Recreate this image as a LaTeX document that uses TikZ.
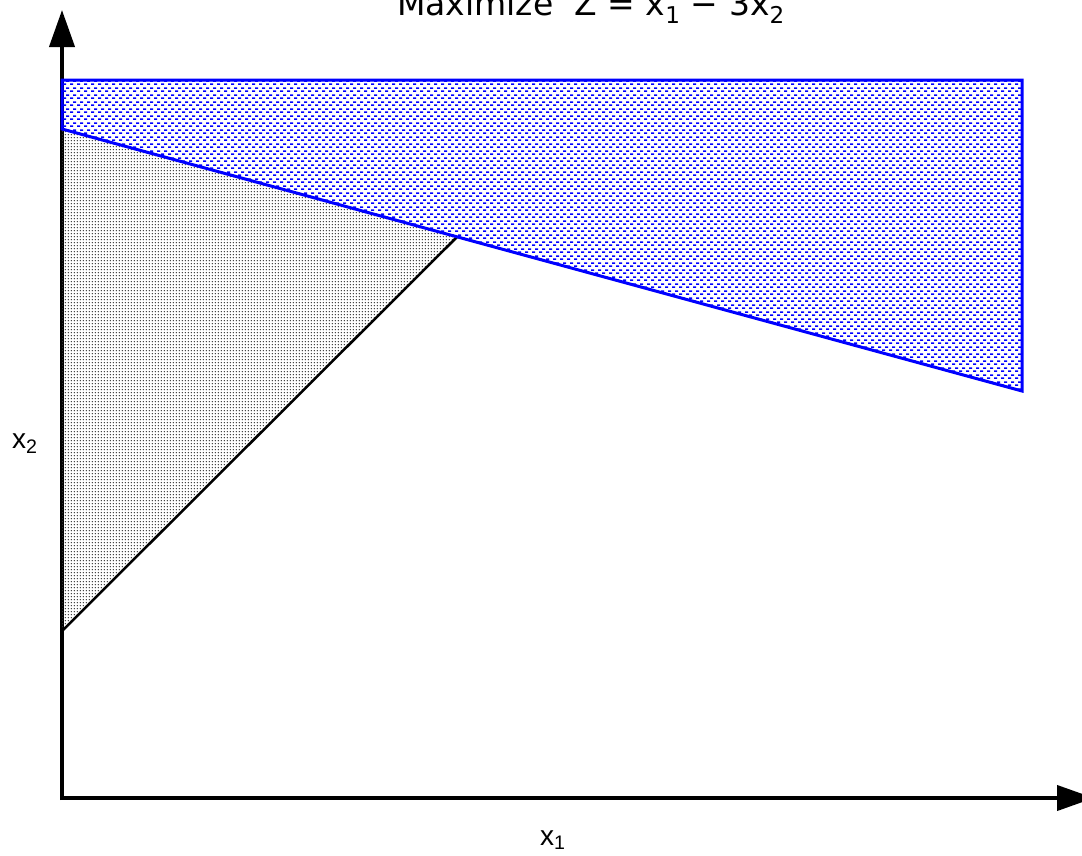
\documentclass[tikz,border=0pt]{standalone}
\usepackage{fontspec}
\setmainfont{Liberation Sans}
\newfontfamily\titlefont{DejaVu Sans}
\usetikzlibrary{arrows.meta,patterns,patterns.meta}
\tikzdeclarepattern{
  name=bluedash, type=uncolored,
  bounding box={(0pt,0pt) and (7pt,7pt)},
  tile size={(7pt,7pt)},
  code={
    \fill (0pt,0pt) rectangle (3.6pt,1.9pt);
    \fill (3.5pt,3.5pt) rectangle (7.1pt,5.4pt);
  }
}
\tikzdeclarepattern{
  name=graydots, type=uncolored,
  bounding box={(0pt,0pt) and (2.8pt,2.8pt)},
  tile size={(2.8pt,2.8pt)},
  code={
    \fill (1.4pt,1.4pt) circle (0.75pt);
  }
}
\tikzset{
  axisline/.style={line width=4pt, -{Triangle[length=37pt,width=25pt]}},
  blueregion/.style={draw=blue, line width=3pt, line join=miter, pattern=bluedash, pattern color=blue},
  grayregion/.style={pattern=graydots, pattern color=black!80},
  constraint/.style={draw=black, line width=2.5pt},
  axislabel/.style={font=\fontsize{28}{32}\selectfont, inner sep=0pt},
  titlelabel/.style={font=\titlefont\fontsize{33}{36}\selectfont, inner sep=0pt}
}
\begin{document}
\begin{tikzpicture}[x=1pt,y=-1pt]
\useasboundingbox (0,0) rectangle (1082,855);
\begin{scope}
\clip (0,0) rectangle (1082,855);
% key points
\coordinate (O) at (62,798);
\coordinate (Ybot) at (62,800);
\coordinate (Ytop) at (62,10);
\coordinate (Xleft) at (60,798);
\coordinate (Xright) at (1094,798);
\coordinate (A) at (62,80);
\coordinate (B) at (1022,80);
\coordinate (C) at (1022,391);
\coordinate (D) at (62,129);
\coordinate (E) at (457,237);
\coordinate (F) at (62,631);
% axes
\draw[axisline] (Ybot) -- (Ytop);
\draw[axisline] (Xleft) -- (Xright);
% gray feasible region
\fill[grayregion] (D) -- (E) -- (F) -- cycle;
\draw[constraint] (F) -- (E);
% blue region
\draw[blueregion] (A) -- (B) -- (C) -- (D) -- cycle;
\end{scope}
% labels
\node[axislabel, anchor=base west] (lx2) at (12,448) {x\textsubscript{2}};
\node[axislabel, anchor=base west] (lx1) at (540,845) {x\textsubscript{1}};
\node[titlelabel, anchor=base] (title) at (591,15) {Maximize~~Z = x\textsubscript{1} − 3x\textsubscript{2}};
\end{tikzpicture}
\end{document}
